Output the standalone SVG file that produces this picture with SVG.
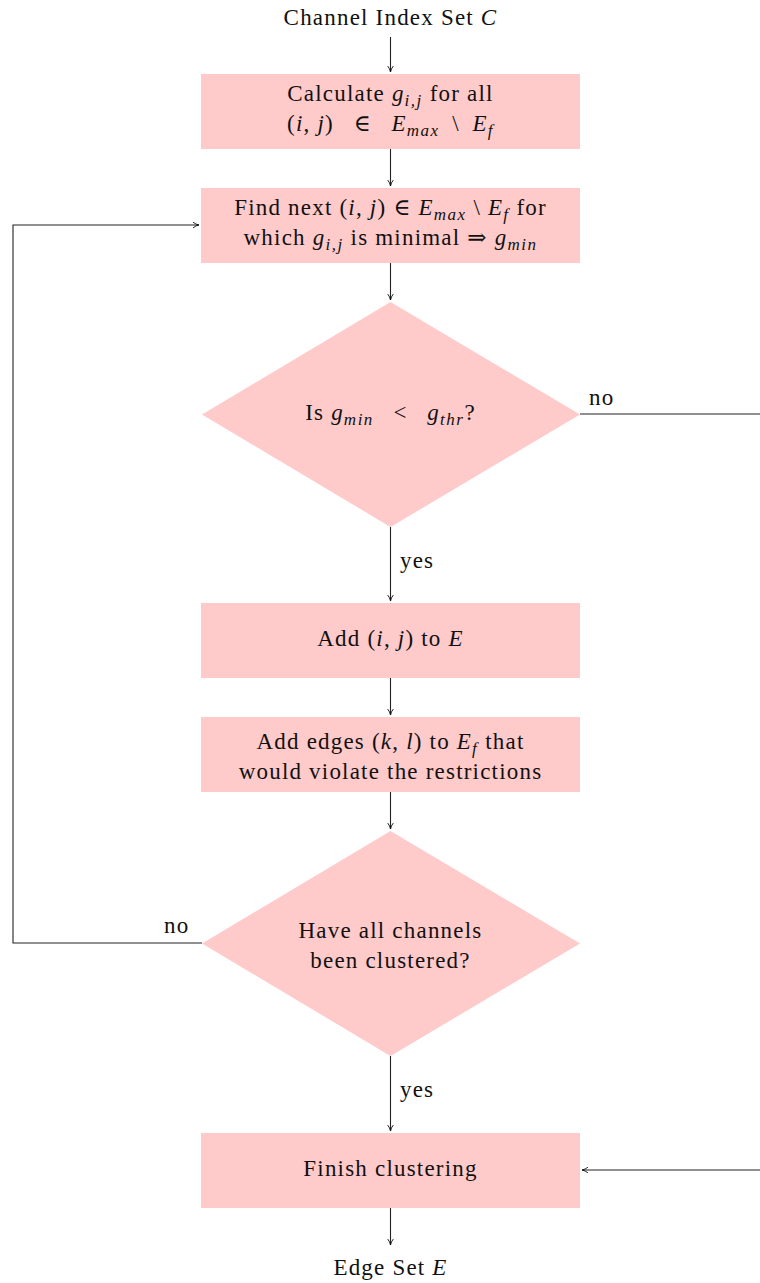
<svg xmlns="http://www.w3.org/2000/svg" width="760" height="1283" viewBox="0 0 760 1283">
<defs>
<marker id="arr" viewBox="0 0 10 10" refX="9.5" refY="5" markerWidth="7" markerHeight="7" markerUnits="userSpaceOnUse" orient="auto">
<path d="M1,1 Q5,4.2 9.5,5 Q5,5.8 1,9" fill="none" stroke="#111" stroke-width="1.3"/>
</marker>
<style>
.node{fill:#ffcaca;stroke:none}
text{font-family:"Liberation Serif","DejaVu Serif",serif;font-size:23px;letter-spacing:1.2px;fill:#111;text-anchor:middle}
.lbl{text-anchor:start}
.m{font-style:italic}
.s{font-style:italic;font-size:17px;letter-spacing:1.5px}
.c{fill:none;stroke:#222;stroke-width:1.1}
</style>
</defs>
<g id="connectors">
<line class="c" x1="390.5" y1="37" x2="390.5" y2="72" marker-end="url(#arr)"/>
<line class="c" x1="390.5" y1="149" x2="390.5" y2="186" marker-end="url(#arr)"/>
<line class="c" x1="390.5" y1="263" x2="390.5" y2="300" marker-end="url(#arr)"/>
<line class="c" x1="390.5" y1="527" x2="390.5" y2="601" marker-end="url(#arr)"/>
<line class="c" x1="390.5" y1="678" x2="390.5" y2="715" marker-end="url(#arr)"/>
<line class="c" x1="390.5" y1="792" x2="390.5" y2="829" marker-end="url(#arr)"/>
<line class="c" x1="390.5" y1="1056" x2="390.5" y2="1131" marker-end="url(#arr)"/>
<line class="c" x1="390.5" y1="1208" x2="390.5" y2="1245" marker-end="url(#arr)"/>
<polyline class="c" points="202,943 13,943 13,225 199,225" marker-end="url(#arr)"/>
<line class="c" x1="580" y1="414" x2="762" y2="414"/>
<line class="c" x1="762" y1="1170" x2="582" y2="1170" marker-end="url(#arr)"/>
<text class="lbl" x="400" y="568">yes</text>
<text class="lbl" x="400" y="1097">yes</text>
<text class="lbl" x="589" y="405">no</text>
<text class="lbl" x="164" y="933">no</text>
</g>
<g id="start">
<text x="390.5" y="25">Channel Index Set <tspan class="m">C</tspan></text>
</g>
<g id="calc">
<rect class="node" x="201" y="74" width="379" height="75"/>
<text x="390.5" y="101">Calculate <tspan class="m">g</tspan><tspan class="s" dy="5">i,j</tspan><tspan dy="-5"> for all</tspan></text>
<text x="390.5" y="131">(<tspan class="m">i</tspan>, <tspan class="m">j</tspan>)&#8194; ∈ &#8194;<tspan class="m">E</tspan><tspan class="s" dy="5">max</tspan><tspan dy="-5">&#8194;\&#8194;</tspan><tspan class="m">E</tspan><tspan class="s" dy="5">f</tspan></text>
</g>
<g id="findnext">
<rect class="node" x="201" y="188" width="379" height="75"/>
<text x="390.5" y="215">Find next (<tspan class="m">i</tspan>, <tspan class="m">j</tspan>) ∈ <tspan class="m">E</tspan><tspan class="s" dy="5">max</tspan><tspan dy="-5"> \ </tspan><tspan class="m">E</tspan><tspan class="s" dy="5">f</tspan><tspan dy="-5"> for</tspan></text>
<text x="390.5" y="245">which <tspan class="m">g</tspan><tspan class="s" dy="5">i,j</tspan><tspan dy="-5"> is minimal ⇒ </tspan><tspan class="m">g</tspan><tspan class="s" dy="5">min</tspan></text>
</g>
<g id="decision1">
<polygon class="node" points="390.5,302 580,414.5 390.5,527 202,414.5"/>
<text x="390.5" y="420">Is <tspan class="m">g</tspan><tspan class="s" dy="5">min</tspan><tspan dy="-5">&#8194; &lt; &#8194;</tspan><tspan class="m">g</tspan><tspan class="s" dy="5">thr</tspan><tspan dy="-5">?</tspan></text>
</g>
<g id="addE">
<rect class="node" x="201" y="603" width="379" height="75"/>
<text x="390.5" y="646">Add (<tspan class="m">i</tspan>, <tspan class="m">j</tspan>) to <tspan class="m">E</tspan></text>
</g>
<g id="addEf">
<rect class="node" x="201" y="717" width="379" height="75"/>
<text x="390.5" y="749">Add edges (<tspan class="m">k</tspan>, <tspan class="m">l</tspan>) to <tspan class="m">E</tspan><tspan class="s" dy="5">f</tspan><tspan dy="-5"> that</tspan></text>
<text x="390.5" y="779">would violate the restrictions</text>
</g>
<g id="decision2">
<polygon class="node" points="390.5,831 580,943.5 390.5,1056 202,943.5"/>
<text x="390.5" y="938">Have all channels</text>
<text x="390.5" y="968">been clustered?</text>
</g>
<g id="finish">
<rect class="node" x="201" y="1133" width="379" height="75"/>
<text x="390.5" y="1176">Finish clustering</text>
</g>
<g id="end">
<text x="390.5" y="1275">Edge Set <tspan class="m">E</tspan></text>
</g>
</svg>
